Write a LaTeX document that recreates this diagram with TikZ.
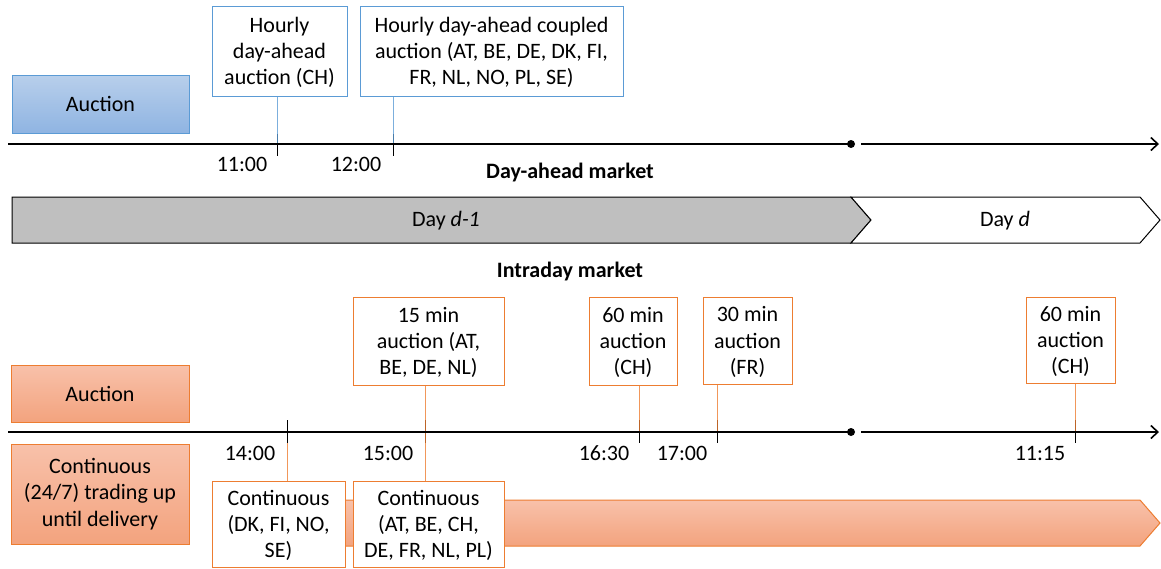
\documentclass[tikz,border=0pt]{standalone}
\usepackage{fontspec}
\setmainfont{Carlito}
\usetikzlibrary{arrows.meta,positioning}
\definecolor{bluedge}{RGB}{91,155,213}
\definecolor{bluetop}{RGB}{184,207,235}
\definecolor{bluebot}{RGB}{143,180,226}
\definecolor{orgedge}{RGB}{237,125,49}
\definecolor{orgtop}{RGB}{248,193,170}
\definecolor{orgbot}{RGB}{243,163,126}
\definecolor{dayfill}{RGB}{191,191,191}

\begin{document}
\begin{tikzpicture}[x=1pt,y=-1pt,font=\fontsize{22}{26.3}\selectfont,
	bluebox/.style={draw=bluedge,fill=white,line width=1pt,align=center,inner sep=0pt,text depth=0pt},
	orgbox/.style={draw=orgedge,fill=white,line width=1pt,align=center,inner sep=0pt,text depth=0pt},
	blueleg/.style={draw=bluedge,line width=1pt,top color=bluetop,bottom color=bluebot,align=center,inner sep=0pt},
	orgleg/.style={draw=orgedge,line width=1pt,top color=orgtop,bottom color=orgbot,align=center,inner sep=0pt},
	axis/.style={line width=1.6pt},
	tick/.style={line width=1pt},
	timelbl/.style={inner sep=0pt}]
	\useasboundingbox (0,0) rectangle (1161,568);

	\coordinate (da0) at (8,144);
	\coordinate (dam) at (851,144);
	\coordinate (da1) at (861,144);
	\coordinate (da2) at (1159,144);
	\coordinate (id0) at (8,432);
	\coordinate (idm) at (851,432);
	\coordinate (id1) at (861,432);
	\coordinate (id2) at (1159,432);

	\node[blueleg, minimum width=177pt, minimum height=58pt] (aucda) at (100.5,104) {Auction};
	\node[bluebox, minimum width=135pt, minimum height=90pt] (hrch) at (279.5,51) {Hourly\\day-ahead\\auction (CH)};
	\node[bluebox, minimum width=263pt, minimum height=90pt] (hrcpl) at (491.5,51) {Hourly day-ahead coupled\\auction (AT, BE, DE, DK, FI,\\FR, NL, NO, PL, SE)};

	\coordinate (t11) at (277,144);
	\coordinate (t12) at (393,144);
	\draw[tick] (277,134) -- (277,156);
	\draw[tick] (393,134) -- (393,156);
	\draw[bluedge, line width=1pt, opacity=0.8] (hrch.south -| t11) -- (t11);
	\draw[bluedge, line width=1pt, opacity=0.8] (hrcpl.south -| t12) -- (t12);
	\draw[axis] (da0) -- (dam);
	\fill (dam) circle (4pt);
	\draw[axis, -{Straight Barb[length=7pt,width=13pt]}] (da1) -- (da2);

	\node[timelbl] (l11) at (242,164) {11:00};
	\node[timelbl] (l12) at (356,164) {12:00};
	\node[timelbl, font=\fontsize{22}{26.3}\selectfont\bfseries] (damkt) at (570,173) {Day-ahead market};

	\draw[line width=1pt, fill=dayfill] (12,197) -- (851,197) -- (871,220) -- (851,243) -- (12,243) -- cycle;
	\draw[line width=1pt, fill=white] (851,197) -- (1140,197) -- (1160,220) -- (1140,243) -- (851,243) -- (871,220) -- cycle;
	\node[timelbl] (dprev) at (446,221) {Day \textit{d-1}};
	\node[timelbl] (dcur) at (1005,221) {Day \textit{d}};

	\node[timelbl, font=\fontsize{22}{26.3}\selectfont\bfseries] (idmkt) at (570,272) {Intraday market};

	\draw[orgedge, line width=1pt, top color=orgtop, bottom color=orgbot] (300,500) -- (1140,500) -- (1160,523) -- (1140,546) -- (300,546) -- cycle;

	\node[orgleg, minimum width=178pt, minimum height=57pt] (aucid) at (100,393.5) {Auction};
	\node[orgleg, minimum width=178pt, minimum height=100pt] (contall) at (100,494) {Continuous\\(24/7) trading up\\until delivery};

	\node[orgbox, minimum width=151pt, minimum height=88pt] (m15) at (428.5,341) {15 min\\auction (AT,\\BE, DE, NL)};
	\node[orgbox, minimum width=88pt, minimum height=88pt] (m60a) at (633,341) {60 min\\auction\\(CH)};
	\node[orgbox, minimum width=89pt, minimum height=87pt] (m30) at (747.5,340.5) {30 min\\auction\\(FR)};
	\node[orgbox, minimum width=89pt, minimum height=86pt] (m60b) at (1070.5,340) {60 min\\auction\\(CH)};
	\node[orgbox, minimum width=133pt, minimum height=86pt] (cont1) at (278.5,524) {Continuous\\(DK, FI, NO,\\SE)};
	\node[orgbox, minimum width=151pt, minimum height=86pt] (cont2) at (428.5,524) {Continuous\\(AT, BE, CH,\\DE, FR, NL, PL)};

	\coordinate (t14) at (287,432);
	\coordinate (t15) at (425,432);
	\coordinate (t1630) at (639,432);
	\coordinate (t17) at (717,432);
	\coordinate (t1115) at (1075,432);
	\foreach \tx in {287,425,639,717,1075}
		\draw[tick] (\tx,420) -- (\tx,443);
	\draw[orgedge, line width=1pt, opacity=0.8] (m15.south -| t15) -- (cont2.north -| t15);
	\draw[orgedge, line width=1pt, opacity=0.8] (t14 |- 0,443) -- (cont1.north -| t14);
	\draw[orgedge, line width=1pt, opacity=0.8] (m60a.south -| t1630) -- (t1630);
	\draw[orgedge, line width=1pt, opacity=0.8] (m30.south -| t17) -- (t17);
	\draw[orgedge, line width=1pt, opacity=0.8] (m60b.south -| t1115) -- (t1115);
	\draw[axis] (id0) -- (idm);
	\fill (idm) circle (4pt);
	\draw[axis, -{Straight Barb[length=7pt,width=13pt]}] (id1) -- (id2);

	\node[timelbl] (l14) at (250,453) {14:00};
	\node[timelbl] (l15) at (388,453) {15:00};
	\node[timelbl] (l1630) at (604,453) {16:30};
	\node[timelbl] (l17) at (682,453) {17:00};
	\node[timelbl] (l1115) at (1040,453) {11:15};
\end{tikzpicture}
\end{document}
